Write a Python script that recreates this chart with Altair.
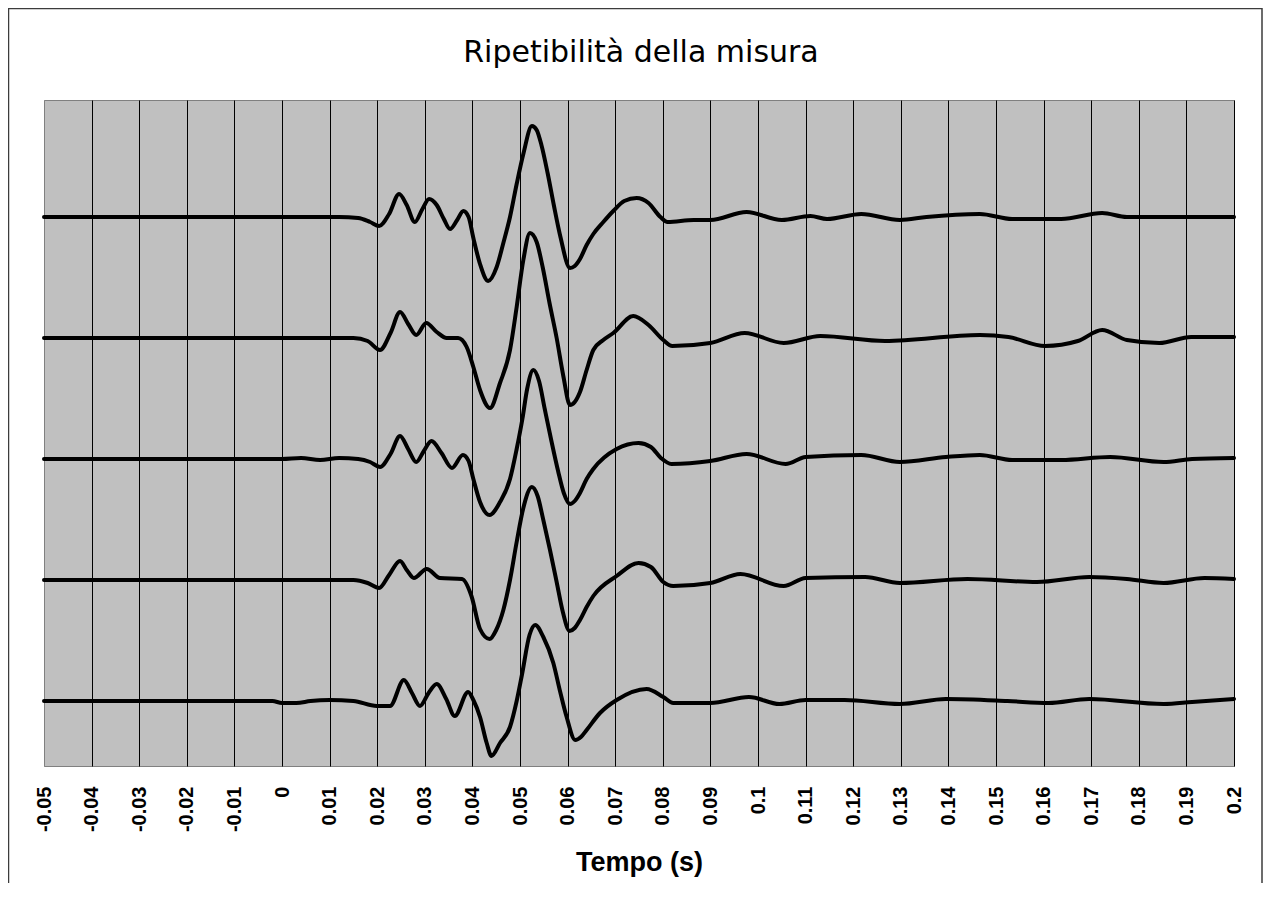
import altair as alt
import pandas as pd

# Tick values / labels of the time axis (s)
time_ticks = [-0.05, -0.04, -0.03, -0.02, -0.01, 0.0, 0.01, 0.02, 0.03, 0.04, 0.05,
              0.06, 0.07, 0.08, 0.09, 0.1, 0.11, 0.12, 0.13, 0.14, 0.15, 0.16,
              0.17, 0.18, 0.19, 0.2]

chart_title = "Ripetibilità della misura"
x_title = "Tempo (s)"

# Vertical offset of each repetition (stacked traces, arbitrary amplitude units)
trace_names = ["Prova 1", "Prova 2", "Prova 3", "Prova 4", "Prova 5"]
trace_offsets = [484, 363, 242, 121, 0]

# Trace 1
t1 = [-0.05, 0.0, 0.012, 0.016, 0.0185, 0.0204, 0.0225, 0.0246, 0.0262, 0.0279, 0.0295,
      0.0309, 0.0325, 0.034, 0.0353, 0.0368, 0.0381, 0.0392, 0.0402, 0.0416, 0.0433,
      0.0451, 0.0465, 0.0479, 0.0493, 0.0507, 0.0525, 0.0535, 0.0545, 0.0558, 0.0571,
      0.0585, 0.0605, 0.0615, 0.0626, 0.064, 0.0654, 0.0675, 0.0696, 0.0719, 0.0745,
      0.077, 0.0795, 0.081, 0.0865, 0.09, 0.0976, 0.105, 0.111, 0.1145, 0.1217,
      0.1298, 0.1354, 0.1466, 0.1534, 0.1637, 0.1723, 0.1775, 0.19, 0.2]
v1 = [0, 0, 0, -1, -5, -9, 3, 23, 12, -5, 8,
      18, 12, -2, -12, -3, 6, 0, -21, -47, -64,
      -50, -26, 0, 33, 63, 91, 87, 72, 44, 12,
      -20, -51, -49, -42, -28, -17, -5, 6, 16, 19,
      14, 0, -5, -3, -3, 5, -3, 1, -2, 3,
      -3, 0, 3, -2, -2, 4, 0, 0, 0]

# Trace 2
t2 = [-0.05, 0.0, 0.015, 0.018, 0.0206, 0.0228, 0.0248, 0.0265, 0.0282, 0.0303, 0.0325,
      0.0346, 0.037, 0.0388, 0.0402, 0.0416, 0.0437, 0.0458, 0.0479, 0.0493, 0.0507,
      0.0521, 0.0535, 0.0548, 0.0562, 0.0577, 0.0591, 0.0605, 0.0615, 0.0626, 0.064,
      0.0654, 0.0675, 0.0696, 0.0738, 0.077, 0.0801, 0.082, 0.09, 0.0972, 0.1054,
      0.1131, 0.1267, 0.1466, 0.1526, 0.1603, 0.1672, 0.1723, 0.1775, 0.1843, 0.191,
      0.2]
v2 = [0, 0, 0, -3, -12, 5, 26, 14, 3, 15, 6,
      0, 0, -9, -29, -52, -70, -45, -12, 31, 78,
      105, 96, 70, 35, 0, -38, -67, -64, -54, -32,
      -12, -2, 5, 22, 13, -2, -8, -5, 5, -5,
      2, -3, 3, 1, -8, -3, 8, -2, -5, 1,
      1]

# Trace 3
t3 = [-0.05, 0.0, 0.004, 0.008, 0.012, 0.016, 0.0185, 0.0206, 0.0228, 0.0248, 0.0265,
      0.0282, 0.0298, 0.0314, 0.0335, 0.0357, 0.038, 0.0392, 0.0402, 0.0416, 0.0436,
      0.0458, 0.0479, 0.0493, 0.0505, 0.0515, 0.0528, 0.054, 0.0552, 0.0566, 0.058,
      0.0592, 0.0605, 0.0615, 0.0626, 0.064, 0.0654, 0.0703, 0.0749, 0.0775, 0.0796,
      0.0818, 0.09, 0.0976, 0.1058, 0.11, 0.1217, 0.1298, 0.1395, 0.1466, 0.1534,
      0.1637, 0.174, 0.1852, 0.1912, 0.2]
v3 = [0, 0, 1, -1, 1, 0, -3, -8, 5, 23, 10,
      -3, 8, 18, 6, -9, 4, -2, -20, -43, -56,
      -43, -20, 10, 40, 70, 89, 78, 50, 18, -12,
      -34, -45, -42, -34, -20, -10, 10, 16, 12, 1,
      -5, -2, 5, -5, 2, 4, -3, 2, 4, -1,
      -1, 2, -3, 0, 1]

# Trace 4
t4 = [-0.05, 0.0, 0.015, 0.018, 0.0204, 0.0225, 0.0248, 0.0262, 0.0277, 0.0304, 0.0332,
      0.0378, 0.0398, 0.0416, 0.0436, 0.045, 0.0465, 0.0479, 0.0493, 0.0507, 0.0525,
      0.0537, 0.0549, 0.0563, 0.0577, 0.059, 0.0604, 0.0615, 0.0626, 0.064, 0.0654,
      0.0703, 0.0749, 0.0775, 0.0801, 0.0822, 0.09, 0.0963, 0.1054, 0.11, 0.1225,
      0.1298, 0.144, 0.1586, 0.1696, 0.1775, 0.1852, 0.1938, 0.2]
v4 = [0, 0, 0, -3, -8, 5, 19, 10, 2, 11, 2,
      1, -16, -49, -59, -50, -30, 0, 38, 72, 93,
      84, 60, 30, -2, -32, -51, -48, -40, -27, -16,
      4, 17, 13, -2, -6, -3, 6, -6, 2, 3,
      -3, 1, -2, 3, 1, -3, 2, 1]

# Trace 5
t5 = [-0.05, -0.03, -0.0085, -0.002, 0.0, 0.003, 0.006, 0.01,
      0.015, 0.0199, 0.0227, 0.0256, 0.0273, 0.029, 0.0308, 0.0325, 0.0345, 0.0363,
      0.0391, 0.0402, 0.0416, 0.043, 0.044, 0.0458, 0.0479, 0.0493, 0.0504, 0.052,
      0.0532, 0.0549, 0.057, 0.0584, 0.0598, 0.0616, 0.0628, 0.064, 0.0668, 0.0703,
      0.0766, 0.0801, 0.0822, 0.09, 0.0981, 0.1045, 0.11, 0.1182, 0.1298, 0.1395,
      0.1524, 0.161, 0.1696, 0.1852, 0.1912, 0.2]
v5 = [0, 0, 0, 0, -2, -2, 0, 1,
      0, -5, -5, 21, 8, -5, 8, 17, 2, -15,
      9, 1, -16, -42, -55, -42, -26, 0, 26, 66,
      76, 64, 38, 10, -16, -39, -36, -29, -12, 1,
      12, 4, -2, -2, 4, -3, 1, 1, -3, 2,
      0, -2, 2, -3, -1, 2]

series_t = [t1, t2, t3, t4, t5]
series_v = [v1, v2, v3, v4, v5]

rows = []
for name, off, ts, vs in zip(trace_names, trace_offsets, series_t, series_v):
    for i, (t, v) in enumerate(zip(ts, vs)):
        rows.append({"prova": name, "order": i, "tempo": t, "ampiezza": off + v})
df = pd.DataFrame(rows)

x_enc = alt.X(
    "tempo:Q",
    scale=alt.Scale(domain=[-0.05, 0.2], nice=False, zero=False),
    axis=alt.Axis(
        values=time_ticks,
        labelExpr="replace(format(datum.value, '.2~f'), '\u2212', '-')",
        labelAngle=270,
        labelFont="Liberation Sans",
        labelFontWeight="bold",
        labelFontSize=20,
        labelColor="black",
        labelPadding=20,
        labelFlush=False,
        labelOverlap=False,
        labelBound=False,
        domain=False,
        ticks=False,
        grid=True,
        gridColor={"condition": {"test": "datum.value <= -0.049", "value": "#808080"},
                   "value": "black"},
        gridWidth=1,
        gridOpacity=1,
        title=x_title,
        titleFont="Liberation Sans",
        titleFontWeight="bold",
        titleFontSize=27,
        titleColor="black",
        titleBaseline="alphabetic",
        titleY=104,
    ),
)
y_enc = alt.Y(
    "ampiezza:Q",
    scale=alt.Scale(domain=[-65, 601], nice=False, zero=False),
    axis=None,
)

lines = alt.Chart(df).mark_line(
    color="black", strokeWidth=4, interpolate="monotone",
    strokeJoin="round", strokeCap="round",
).encode(x=x_enc, y=y_enc, detail="prova:N", order="order:Q")

one = pd.DataFrame({"label": [chart_title]})

border = alt.Chart(one).mark_rect(
    fillOpacity=0, stroke="#3c3c3c", strokeWidth=1.5,
).encode(
    x=alt.value(-35.5), x2=alt.value(1218),
    y=alt.value(-91.5), y2=alt.value(820),
)

title_text = alt.Chart(one).mark_text(
    font="DejaVu Sans", fontSize=30, fontWeight="normal", color="black",
    align="center", baseline="alphabetic",
).encode(text="label:N", x=alt.value(597), y=alt.value(-38))

chart = alt.layer(border, lines, title_text).properties(
    width=1190,
    height=666,
    padding={"left": 36, "top": 92, "right": 29, "bottom": 117},
    autosize=alt.AutoSizeParams(type="none"),
    background="white",
).configure_view(fill="#C0C0C0", stroke="#808080", strokeWidth=1)

chart.save("out.html", embed_options={"renderer": "svg", "actions": False})
